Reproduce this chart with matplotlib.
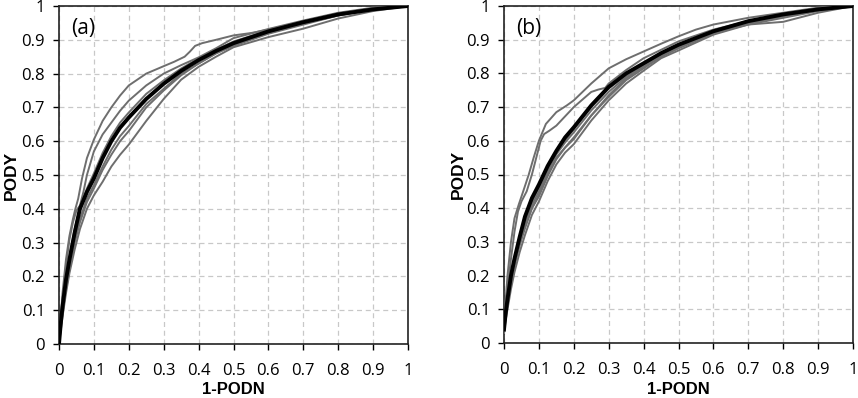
import matplotlib
matplotlib.use("Agg")
import matplotlib.pyplot as plt

# common x positions (1-PODN) where most curves were read
x_grid = [0, 0.005, 0.01, 0.02, 0.03, 0.045, 0.06, 0.08, 0.1, 0.125, 0.15, 0.175,
          0.2, 0.25, 0.3, 0.35, 0.4, 0.45, 0.5, 0.6, 0.7, 0.8, 0.9, 1]

# ---- panel (a) ----
a_mean_y = [0, 0.06, 0.11, 0.19, 0.25, 0.33, 0.4, 0.45, 0.49, 0.55, 0.6, 0.64,
            0.67, 0.725, 0.77, 0.808, 0.84, 0.867, 0.89, 0.925, 0.952, 0.975, 0.99, 1]

a1_x = [0, 0.005, 0.01, 0.02, 0.03, 0.04, 0.047, 0.055, 0.066, 0.08, 0.1, 0.125, 0.15, 0.175,
        0.2, 0.25, 0.3, 0.33, 0.36, 0.375, 0.39, 0.41, 0.45, 0.5, 0.55, 0.6, 0.7, 0.8, 0.9, 1]
a1_y = [0, 0.08, 0.15, 0.25, 0.32, 0.37, 0.4, 0.43, 0.49, 0.55, 0.605, 0.66, 0.70, 0.735,
        0.765, 0.80, 0.822, 0.835, 0.85, 0.865, 0.882, 0.89, 0.9, 0.913, 0.92, 0.93, 0.955, 0.975, 0.99, 1]

a2_x = [0, 0.005, 0.01, 0.02, 0.03, 0.04, 0.05, 0.06, 0.07, 0.08, 0.1, 0.125, 0.15, 0.175,
        0.2, 0.25, 0.3, 0.35, 0.4, 0.45, 0.5, 0.6, 0.7, 0.8, 0.9, 1]
a2_y = [0, 0.07, 0.13, 0.23, 0.31, 0.36, 0.395, 0.41, 0.45, 0.5, 0.57, 0.62, 0.655, 0.69,
        0.72, 0.765, 0.8, 0.825, 0.848, 0.875, 0.905, 0.932, 0.957, 0.98, 0.995, 1]

a3_y = [0, 0.04, 0.08, 0.15, 0.21, 0.28, 0.34, 0.40, 0.44, 0.48, 0.525, 0.56,
        0.59, 0.66, 0.725, 0.782, 0.82, 0.85, 0.878, 0.908, 0.933, 0.963, 0.985, 1]
a4_y = [0, 0.05, 0.1, 0.17, 0.23, 0.31, 0.37, 0.43, 0.47, 0.525, 0.575, 0.615,
        0.645, 0.71, 0.755, 0.8, 0.83, 0.86, 0.882, 0.918, 0.945, 0.972, 0.99, 1]
a5_y = [0, 0.07, 0.12, 0.2, 0.26, 0.34, 0.405, 0.46, 0.505, 0.565, 0.615, 0.655,
        0.685, 0.74, 0.78, 0.815, 0.845, 0.87, 0.895, 0.928, 0.955, 0.978, 0.992, 1]
a6_y = [0, 0.05, 0.09, 0.16, 0.22, 0.3, 0.36, 0.42, 0.46, 0.515, 0.56, 0.6,
        0.63, 0.7, 0.75, 0.795, 0.83, 0.86, 0.885, 0.92, 0.948, 0.972, 0.99, 1]

# ---- panel (b) ----
b_mean_y = [0.04, 0.09, 0.13, 0.2, 0.25, 0.315, 0.375, 0.43, 0.47, 0.525, 0.57, 0.61,
            0.64, 0.705, 0.76, 0.8, 0.83, 0.86, 0.885, 0.925, 0.955, 0.975, 0.99, 1]

b1_x = [0, 0.005, 0.01, 0.02, 0.03, 0.042, 0.055, 0.071, 0.085, 0.1, 0.12, 0.15, 0.18, 0.2,
        0.25, 0.3, 0.35, 0.4, 0.45, 0.5, 0.55, 0.6, 0.7, 0.8, 0.9, 0.95, 1]
b1_y = [0.05, 0.13, 0.2, 0.3, 0.37, 0.41, 0.45, 0.5, 0.55, 0.6, 0.65, 0.685, 0.705, 0.72,
        0.77, 0.815, 0.842, 0.865, 0.888, 0.91, 0.93, 0.945, 0.965, 0.98, 0.995, 1, 1]

b2_x = [0, 0.005, 0.01, 0.02, 0.03, 0.04, 0.05, 0.065, 0.08, 0.095, 0.105, 0.115, 0.13, 0.15,
        0.2, 0.25, 0.27, 0.29, 0.3, 0.35, 0.4, 0.45, 0.5, 0.6, 0.7, 0.8, 0.9, 1]
b2_y = [0.04, 0.1, 0.16, 0.25, 0.33, 0.39, 0.42, 0.45, 0.5, 0.56, 0.6, 0.62, 0.63, 0.645,
        0.7, 0.745, 0.752, 0.757, 0.77, 0.81, 0.845, 0.87, 0.895, 0.93, 0.955, 0.975, 0.99, 1]

b3_y = [0.03, 0.07, 0.1, 0.16, 0.21, 0.27, 0.32, 0.38, 0.42, 0.48, 0.53, 0.565,
        0.59, 0.66, 0.72, 0.77, 0.808, 0.845, 0.868, 0.915, 0.945, 0.965, 0.985, 1]
b4_y = [0.03, 0.08, 0.12, 0.18, 0.23, 0.29, 0.34, 0.4, 0.44, 0.5, 0.55, 0.58,
        0.61, 0.675, 0.735, 0.785, 0.82, 0.85, 0.875, 0.92, 0.945, 0.953, 0.98, 1]
b5_y = [0.035, 0.085, 0.12, 0.18, 0.23, 0.3, 0.35, 0.41, 0.45, 0.51, 0.56, 0.595,
        0.625, 0.69, 0.745, 0.79, 0.825, 0.855, 0.88, 0.92, 0.95, 0.97, 0.99, 1]
b6_y = [0.04, 0.08, 0.12, 0.18, 0.24, 0.3, 0.345, 0.4, 0.435, 0.495, 0.545, 0.58,
        0.605, 0.675, 0.73, 0.78, 0.815, 0.85, 0.875, 0.918, 0.948, 0.97, 0.988, 1]
b7_y = [0.04, 0.09, 0.13, 0.19, 0.245, 0.31, 0.36, 0.42, 0.46, 0.52, 0.565, 0.6,
        0.635, 0.7, 0.755, 0.795, 0.83, 0.86, 0.885, 0.925, 0.952, 0.972, 0.99, 1]

ticks = [0, 0.1, 0.2, 0.3, 0.4, 0.5, 0.6, 0.7, 0.8, 0.9, 1]
tick_labels = ["0", "0.1", "0.2", "0.3", "0.4", "0.5", "0.6", "0.7", "0.8", "0.9", "1"]
panel_labels = ["(a)", "(b)"]
x_label = "1-PODN"
y_label = "PODY"

a_gray = [(a1_x, a1_y), (a2_x, a2_y), (x_grid, a3_y), (x_grid, a4_y), (x_grid, a5_y), (x_grid, a6_y)]
b_gray = [(b1_x, b1_y), (b2_x, b2_y), (x_grid, b3_y), (x_grid, b4_y), (x_grid, b5_y),
          (x_grid, b6_y), (x_grid, b7_y)]

fig = plt.figure(figsize=(8.58, 3.98), dpi=100)
ax_a = fig.add_axes([59/858, 1-344/398, 349/858, 338/398])
ax_b = fig.add_axes([504/858, 1-343/398, 349/858, 337/398])

panels = [
    (ax_a, a_gray, a_mean_y, (-0.116, 0.5), (0.5, -0.113)),
    (ax_b, b_gray, b_mean_y, (-0.110, 0.5), (0.5, -0.116)),
]

for i, (ax, grays, my, ylc, xlc) in enumerate(panels):
    for xs, ys in grays:
        ax.plot(xs, ys, color="#6e6e6e", lw=1.4, zorder=3, solid_joinstyle="round")
    ax.plot(x_grid, my, color="black", lw=2.8, zorder=4, solid_joinstyle="round")
    ax.set_xlim(0, 1)
    ax.set_ylim(0, 1)
    ax.set_xticks(ticks)
    ax.set_yticks(ticks)
    ax.set_xticklabels(tick_labels, fontfamily="Open Sans", fontsize=12)
    ax.set_yticklabels(tick_labels, fontfamily="Open Sans", fontsize=12)
    ax.grid(True, color="#c8c8c8", linestyle=(0, (4, 3)), lw=0.9, zorder=0)
    ax.set_axisbelow(True)
    ax.tick_params(axis="x", direction="out", length=4.5, width=1, pad=9, color="black")
    ax.tick_params(axis="y", direction="out", length=4.5, width=1, pad=5.5, color="black")
    for s in ax.spines.values():
        s.set_color("#222222")
        s.set_linewidth(1.2)
    ax.set_xlabel(x_label, fontfamily="Liberation Sans", fontweight="bold", fontsize=12)
    ax.set_ylabel(y_label, fontfamily="Liberation Sans", fontweight="bold", fontsize=12.5)
    ax.xaxis.set_label_coords(*xlc)
    ax.yaxis.set_label_coords(*ylc)
    ax.text(0.035, 0.965, panel_labels[i], transform=ax.transAxes, fontfamily="Open Sans",
            fontsize=15, va="top", ha="left")

fig.savefig("out.png", dpi=100)
